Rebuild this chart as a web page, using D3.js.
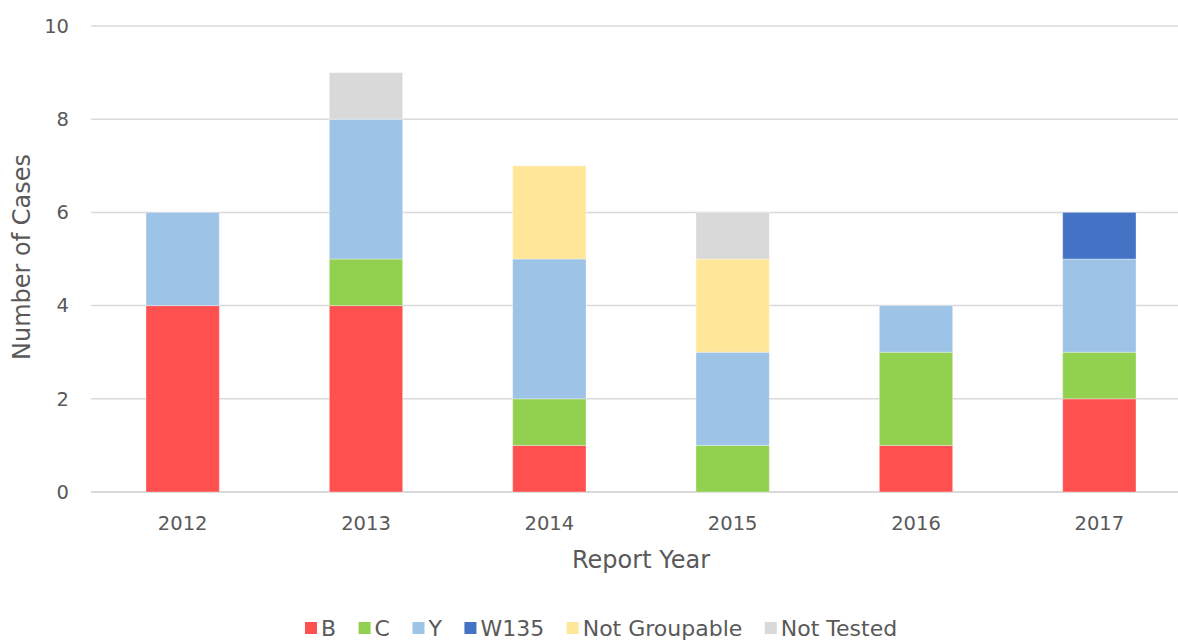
<!DOCTYPE html>
<meta charset="utf-8">
<head>
    <script src="https://d3js.org/d3.v7.min.js"></script>
    <style>
        body { margin: 0; background: #fff; }
        text { font-family: "DejaVu Sans", sans-serif; fill: #595959; }
    </style>
</head>
<body>
<div id="my_dataviz"></div>
<script>
    // data
    var years = ["2012", "2013", "2014", "2015", "2016", "2017"];
    var groups = ["B", "C", "Y", "W135", "Not Groupable", "Not Tested"];
    var valB    = [4, 4, 1, 0, 1, 2];
    var valC    = [0, 1, 1, 1, 2, 1];
    var valY    = [2, 3, 3, 2, 1, 2];
    var valW135 = [0, 0, 0, 0, 0, 1];
    var valNG   = [0, 0, 2, 2, 0, 0];
    var valNT   = [0, 1, 0, 1, 0, 0];
    var colors = ["#ff5050", "#92d050", "#9dc3e6", "#4472c4", "#ffe699", "#d9d9d9"];
    var yTicks = [0, 2, 4, 6, 8, 10];

    var width = 1178, height = 640;

    var svg = d3.select("#my_dataviz").append("svg")
        .attr("width", width)
        .attr("height", height);

    var rows = years.map(function (yr, i) {
        return { year: yr, "B": valB[i], "C": valC[i], "Y": valY[i], "W135": valW135[i],
                 "Not Groupable": valNG[i], "Not Tested": valNT[i] };
    });

    var x = d3.scaleBand().domain(years).range([91, 1191]).paddingInner(0.6).paddingOuter(0.3);
    var y = d3.scaleLinear().domain([0, 10]).range([492, 26]);
    var color = d3.scaleOrdinal().domain(groups).range(colors);

    // gridlines
    svg.append("g")
        .selectAll("line")
        .data(yTicks)
        .enter().append("line")
        .attr("x1", 91).attr("x2", width)
        .attr("y1", function (d) { return y(d); })
        .attr("y2", function (d) { return y(d); })
        .attr("stroke", "#d9d9d9")
        .attr("stroke-width", function (d) { return d === 0 ? 2 : 1.5; });

    // y tick labels
    svg.append("g")
        .selectAll("text")
        .data(yTicks)
        .enter().append("text")
        .attr("x", 69)
        .attr("y", function (d) { return y(d); })
        .attr("dy", "0.35em")
        .attr("text-anchor", "end")
        .style("font-size", "19.5px")
        .text(function (d) { return d; });

    // stacked bars
    var stacked = d3.stack().keys(groups)(rows);
    svg.append("g")
        .selectAll("g")
        .data(stacked)
        .enter().append("g")
        .attr("fill", function (d) { return color(d.key); })
        .selectAll("rect")
        .data(function (d) { return d.filter(function (p) { return p[1] > p[0]; }); })
        .enter().append("rect")
        .attr("x", function (d) { return x(d.data.year); })
        .attr("y", function (d) { return y(d[1]); })
        .attr("height", function (d) { return y(d[0]) - y(d[1]); })
        .attr("width", x.bandwidth())
        .attr("stroke", "rgba(255,255,255,0.35)")
        .attr("stroke-width", 1);

    // x tick labels
    svg.append("g")
        .selectAll("text")
        .data(years)
        .enter().append("text")
        .attr("x", function (d) { return x(d) + x.bandwidth() / 2; })
        .attr("y", 530)
        .attr("text-anchor", "middle")
        .style("font-size", "19.5px")
        .text(function (d) { return d; });

    // axis titles
    svg.append("text")
        .attr("x", 641).attr("y", 568)
        .attr("text-anchor", "middle")
        .style("font-size", "24px")
        .text("Report Year");

    svg.append("text")
        .attr("transform", "translate(30,257) rotate(-90)")
        .attr("text-anchor", "middle")
        .style("font-size", "24px")
        .text("Number of Cases");

    // legend
    var legend = svg.append("g");
    var lx = 305;
    groups.forEach(function (g) {
        legend.append("rect")
            .attr("x", lx).attr("y", 622)
            .attr("width", 12).attr("height", 12)
            .attr("fill", color(g));
        var t = legend.append("text")
            .attr("x", lx + 16).attr("y", 628)
            .attr("dy", "0.35em")
            .style("font-size", "22px")
            .text(g);
        lx += 16 + t.node().getComputedTextLength() + 22.5;
    });
</script>
</body>
